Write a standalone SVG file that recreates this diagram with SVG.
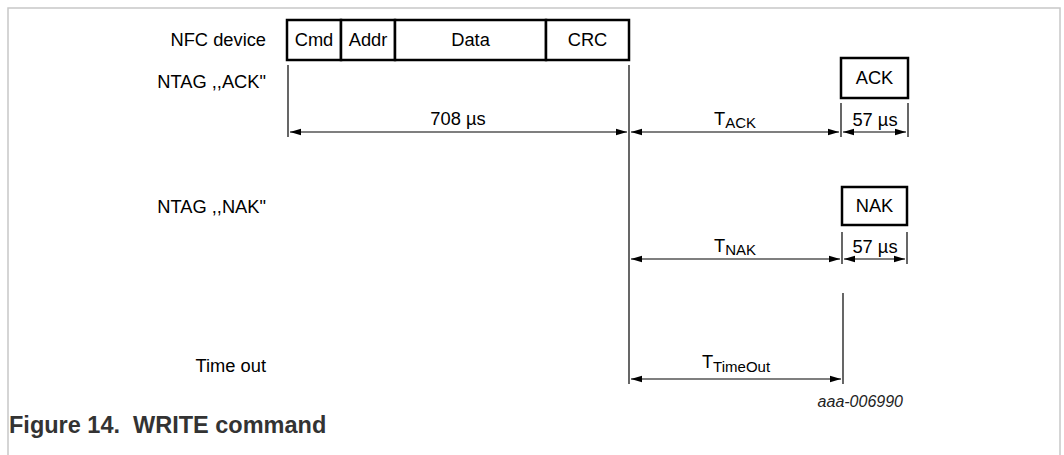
<svg xmlns="http://www.w3.org/2000/svg" width="1064" height="455" viewBox="0 0 1064 455">
  <defs>
    <marker id="arrowEnd" markerUnits="userSpaceOnUse" markerWidth="12" markerHeight="8" refX="11" refY="4" orient="auto">
      <path d="M0,0.8 L11,4 L0,7.2 z" fill="#000"/>
    </marker>
    <marker id="arrowStart" markerUnits="userSpaceOnUse" markerWidth="12" markerHeight="8" refX="0" refY="4" orient="auto">
      <path d="M11,0.8 L0,4 L11,7.2 z" fill="#000"/>
    </marker>
  </defs>
  <style>
    text { font-family: "Liberation Sans", Arial, sans-serif; fill: #000; }
    .lbl { font-size: 18.3px; text-anchor: end; }
    .mid { font-size: 18.3px; text-anchor: middle; }
    .sub { font-size: 15px; }
    .box { fill: #fff; stroke: #000; stroke-width: 2.5; }
    .ln { stroke: #000; stroke-width: 1.2; fill: none; }
    .dim { stroke: #000; stroke-width: 1.2; fill: none; marker-start: url(#arrowStart); marker-end: url(#arrowEnd); }
    .frame { stroke: #c8c8c8; stroke-width: 1.5; fill: none; }
    .caption { font-size: 23.5px; font-weight: bold; fill: #333; white-space: pre; }
    .ref { font-size: 16px; font-style: italic; text-anchor: end; fill: #222; }
  </style>

  <rect width="1064" height="455" fill="#fff"/>
  <!-- figure frame -->
  <path class="frame" d="M8,456 V8 H1060 V456"/>

  <!-- row labels -->
  <g id="labels">
    <text class="lbl" x="266" y="46">NFC device</text>
    <text class="lbl" x="266" y="88">NTAG ,,ACK"</text>
    <text class="lbl" x="266" y="213">NTAG ,,NAK"</text>
    <text class="lbl" x="266" y="372">Time out</text>
  </g>

  <!-- command frame sent by the NFC device -->
  <g id="frame-cmd">
    <rect class="box" x="287" y="20" width="54" height="40"/>
    <text class="mid" x="314" y="46">Cmd</text>
  </g>
  <g id="frame-addr">
    <rect class="box" x="341" y="20" width="54" height="40"/>
    <text class="mid" x="368" y="46">Addr</text>
  </g>
  <g id="frame-data">
    <rect class="box" x="395" y="20" width="151" height="40"/>
    <text class="mid" x="470.5" y="46">Data</text>
  </g>
  <g id="frame-crc">
    <rect class="box" x="546" y="20" width="83" height="40"/>
    <text class="mid" x="587.5" y="46">CRC</text>
  </g>

  <!-- tag responses -->
  <g id="ack">
    <rect class="box" x="841" y="58" width="67" height="40"/>
    <text class="mid" x="874.5" y="84">ACK</text>
  </g>
  <g id="nak">
    <rect class="box" x="842" y="187" width="65" height="38"/>
    <text class="mid" x="874.5" y="212">NAK</text>
  </g>

  <!-- timing lines and dimension arrows -->
  <g id="connectors">
    <line class="ln" x1="288" y1="65" x2="288" y2="137"/>
    <line class="ln" x1="629" y1="65" x2="629" y2="384"/>
    <line class="ln" x1="841" y1="103" x2="841" y2="137"/>
    <line class="ln" x1="908" y1="103" x2="908" y2="137"/>
    <line class="ln" x1="842" y1="232" x2="842" y2="264"/>
    <line class="ln" x1="907" y1="232" x2="907" y2="264"/>
    <line class="ln" x1="843" y1="293" x2="843" y2="384"/>

    <line class="dim" x1="290" y1="132" x2="627" y2="132"/>
    <line class="dim" x1="631" y1="132" x2="839" y2="132"/>
    <line class="dim" x1="843" y1="132" x2="906" y2="132"/>

    <line class="dim" x1="631" y1="259" x2="840" y2="259"/>
    <line class="dim" x1="844" y1="259" x2="905" y2="259"/>

    <line class="dim" x1="631" y1="379" x2="841" y2="379"/>
  </g>

  <!-- dimension labels -->
  <g id="dim-labels">
    <text class="mid" x="458" y="125">708 µs</text>
    <text class="mid" x="735" y="125">T<tspan class="sub" dy="3">ACK</tspan></text>
    <text class="mid" x="875" y="126">57 µs</text>
    <text class="mid" x="735" y="252">T<tspan class="sub" dy="3">NAK</tspan></text>
    <text class="mid" x="875" y="253">57 µs</text>
    <text class="mid" x="736" y="368">T<tspan class="sub" dy="4">TimeOut</tspan></text>
  </g>

  <text class="ref" x="903" y="407">aaa-006990</text>
  <text class="caption" x="9" y="433">Figure 14.  WRITE command</text>
</svg>
